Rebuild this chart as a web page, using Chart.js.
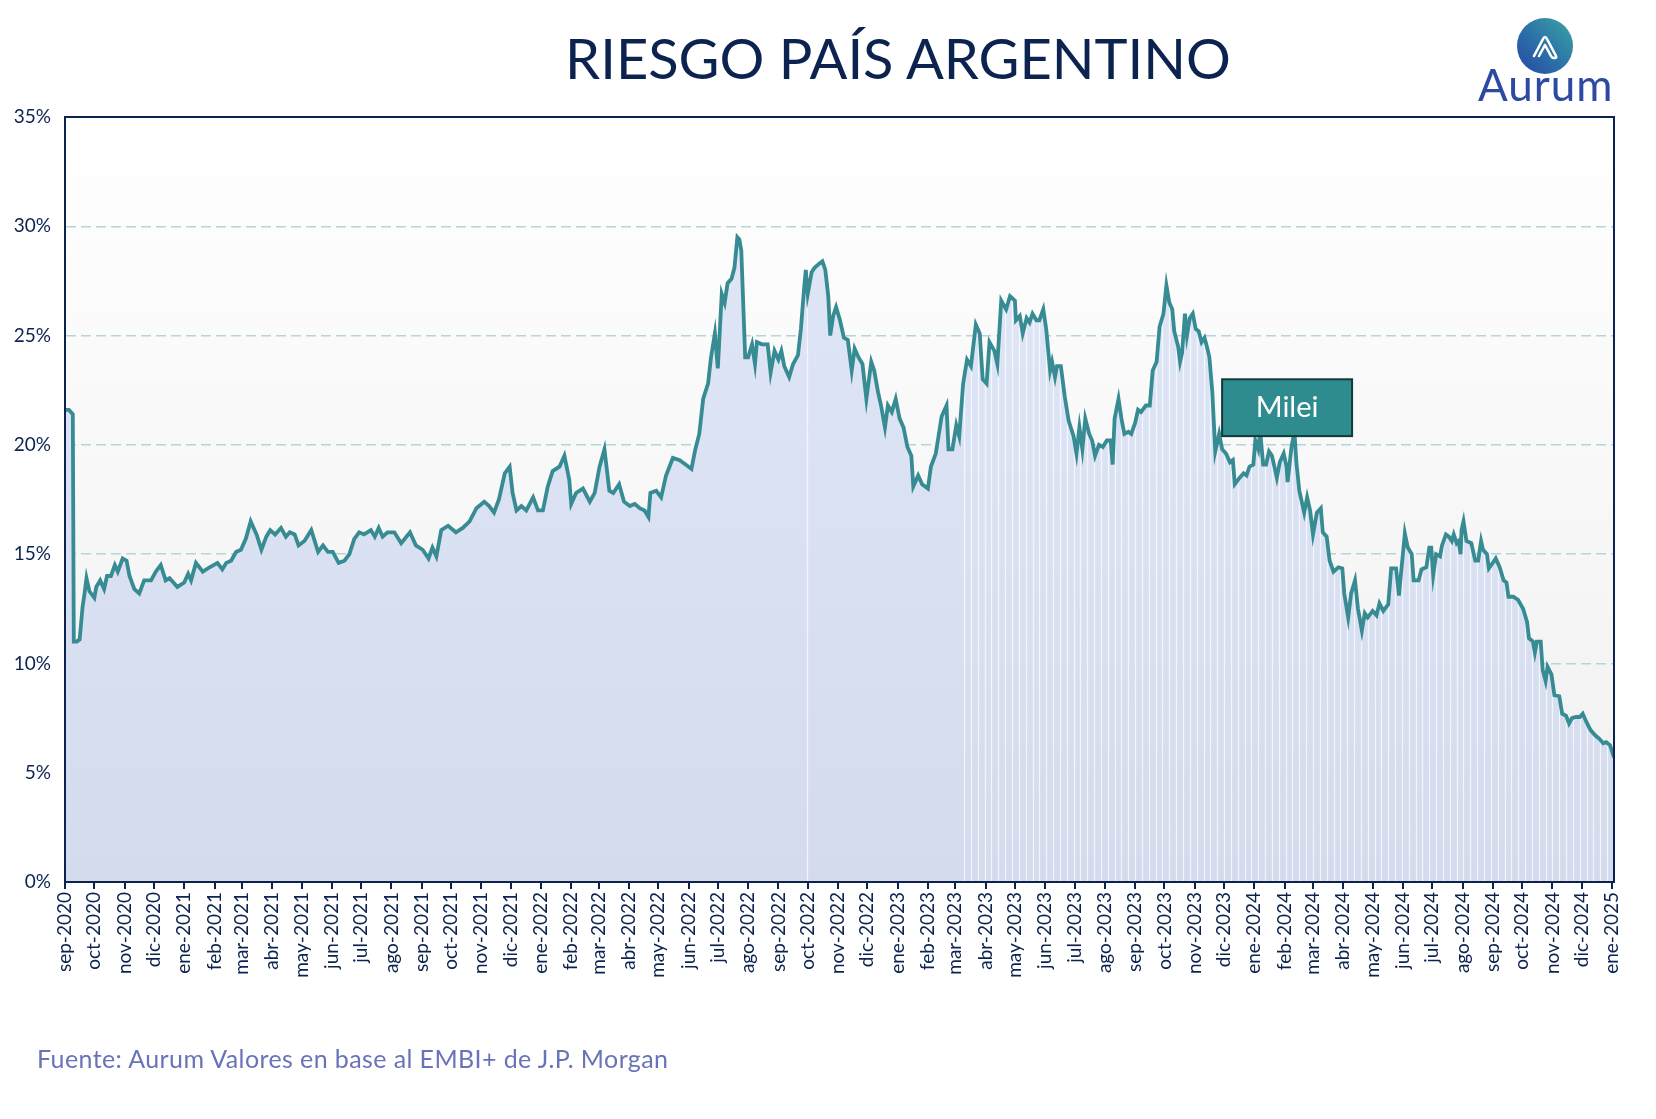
<!DOCTYPE html>
<html lang="es">
<head>
<meta charset="utf-8">
<title>Riesgo País Argentino</title>
<script src="https://cdn.jsdelivr.net/npm/chart.js@4.4.1/dist/chart.umd.min.js"></script>
<style>
  html, body { margin: 0; padding: 0; background: #fff; }
  .wrap { position: relative; width: 1656px; height: 1119px; font-family: Lato, "Noto Sans", sans-serif; overflow: hidden; }
  .wrap canvas { position: absolute; left: 0; top: 0; }
  .titulo { position: absolute; left: 898px; top: 24px; transform: translateX(-50%); font-size: 56px; font-weight: 400; line-height: 1.2; letter-spacing: 0; color: #0c2350; white-space: nowrap; }
  .fuente { position: absolute; left: 37px; top: 1043px; font-size: 25px; line-height: 1.2; letter-spacing: 0.4px; color: #6a73b8; white-space: nowrap; }
  .logo-circulo { position: absolute; left: 1517px; top: 18px; width: 56px; height: 56px; border-radius: 50%;
    background: linear-gradient(225deg, #3aa6a3 0%, #2c6fa8 55%, #2547a2 100%); }
  .logo-texto { position: absolute; left: 1478px; top: 58px; font-size: 44px; line-height: 1.2; color: #2b4aa0; letter-spacing: 1px; white-space: nowrap; }
</style>
</head>
<body>
<div class="wrap">
  <canvas id="grafico" width="1656" height="1119"></canvas>
  <div class="titulo">RIESGO PAÍS ARGENTINO</div>
  <div class="logo-circulo">
    <svg width="56" height="56" viewBox="0 0 56 56">
      <path d="M17 38 L26 21 Q28 17 30 21 L39 38 Q40 40 37 40 Q35 40 34 38 L28 27 L22 38"
            fill="none" stroke="#fff" stroke-width="2.6" stroke-linejoin="round" stroke-linecap="round"/>
    </svg>
  </div>
  <div class="logo-texto">Aurum</div>
  <div class="fuente">Fuente: Aurum Valores en base al EMBI+ de J.P. Morgan</div>
</div>
<script>
// etiquetas del eje x (una por mes)
const etiquetasMes = [
  'sep-2020', 'oct-2020', 'nov-2020', 'dic-2020',
  'ene-2021', 'feb-2021', 'mar-2021', 'abr-2021', 'may-2021', 'jun-2021',
  'jul-2021', 'ago-2021', 'sep-2021', 'oct-2021', 'nov-2021', 'dic-2021',
  'ene-2022', 'feb-2022', 'mar-2022', 'abr-2022', 'may-2022', 'jun-2022',
  'jul-2022', 'ago-2022', 'sep-2022', 'oct-2022', 'nov-2022', 'dic-2022',
  'ene-2023', 'feb-2023', 'mar-2023', 'abr-2023', 'may-2023', 'jun-2023',
  'jul-2023', 'ago-2023', 'sep-2023', 'oct-2023', 'nov-2023', 'dic-2023',
  'ene-2024', 'feb-2024', 'mar-2024', 'abr-2024', 'may-2024', 'jun-2024',
  'jul-2024', 'ago-2024', 'sep-2024', 'oct-2024', 'nov-2024', 'dic-2024',
  'ene-2025'
];

const ticksY = [0, 5, 10, 15, 20, 25, 30, 35];

// fechas de cada lectura
const fechas = [
  '2020-09-01', '2020-09-05', '2020-09-09', '2020-09-10', '2020-09-13', '2020-09-16', '2020-09-19', '2020-09-21', '2020-09-23', '2020-09-26',
  '2020-10-01', '2020-10-03', '2020-10-07', '2020-10-11', '2020-10-14', '2020-10-18', '2020-10-22', '2020-10-25', '2020-10-30',
  '2020-11-03', '2020-11-06', '2020-11-11', '2020-11-16', '2020-11-21', '2020-11-28',
  '2020-12-03', '2020-12-08', '2020-12-13', '2020-12-17', '2020-12-25',
  '2021-01-01', '2021-01-05', '2021-01-08', '2021-01-13', '2021-01-20', '2021-01-27',
  '2021-02-04', '2021-02-09', '2021-02-13', '2021-02-18', '2021-02-23', '2021-02-28',
  '2021-03-05', '2021-03-10', '2021-03-16', '2021-03-21', '2021-03-26', '2021-03-30',
  '2021-04-04', '2021-04-10', '2021-04-15', '2021-04-19', '2021-04-24', '2021-04-28',
  '2021-05-04', '2021-05-11', '2021-05-18', '2021-05-23', '2021-05-28',
  '2021-06-02', '2021-06-08', '2021-06-14', '2021-06-19', '2021-06-24', '2021-06-29',
  '2021-07-04', '2021-07-11', '2021-07-15', '2021-07-19', '2021-07-23', '2021-07-28',
  '2021-08-04', '2021-08-11', '2021-08-20', '2021-08-26',
  '2021-09-02', '2021-09-08', '2021-09-12', '2021-09-16', '2021-09-21', '2021-09-28',
  '2021-10-06', '2021-10-13', '2021-10-20', '2021-10-27',
  '2021-11-04', '2021-11-09', '2021-11-14', '2021-11-19', '2021-11-25', '2021-11-30',
  '2021-12-03', '2021-12-07', '2021-12-12', '2021-12-17', '2021-12-24', '2021-12-29',
  '2022-01-03', '2022-01-08', '2022-01-13', '2022-01-20', '2022-01-25', '2022-01-30',
  '2022-02-01', '2022-02-06', '2022-02-13', '2022-02-20', '2022-02-25',
  '2022-03-02', '2022-03-07', '2022-03-12', '2022-03-16', '2022-03-22', '2022-03-27',
  '2022-04-02', '2022-04-07', '2022-04-12', '2022-04-17', '2022-04-21', '2022-04-23', '2022-04-29',
  '2022-05-04', '2022-05-09', '2022-05-16', '2022-05-23', '2022-05-29',
  '2022-06-04', '2022-06-08', '2022-06-12', '2022-06-16', '2022-06-21', '2022-06-24', '2022-06-28',
  '2022-07-01', '2022-07-05', '2022-07-08', '2022-07-11', '2022-07-15', '2022-07-18', '2022-07-21', '2022-07-23', '2022-07-25', '2022-07-29',
  '2022-08-01', '2022-08-05', '2022-08-08', '2022-08-10', '2022-08-15', '2022-08-18', '2022-08-21', '2022-08-24', '2022-08-28',
  '2022-09-01', '2022-09-04', '2022-09-07', '2022-09-12', '2022-09-16', '2022-09-21', '2022-09-24', '2022-09-27', '2022-09-29',
  '2022-10-01', '2022-10-05', '2022-10-08', '2022-10-13', '2022-10-16', '2022-10-19', '2022-10-22', '2022-10-24', '2022-10-27', '2022-10-30',
  '2022-11-03', '2022-11-07', '2022-11-11', '2022-11-15', '2022-11-18', '2022-11-22', '2022-11-26', '2022-11-30',
  '2022-12-05', '2022-12-08', '2022-12-12', '2022-12-15', '2022-12-19', '2022-12-22', '2022-12-26', '2022-12-30',
  '2023-01-03', '2023-01-07', '2023-01-11', '2023-01-15', '2023-01-17', '2023-01-22', '2023-01-26',
  '2023-02-01', '2023-02-04', '2023-02-09', '2023-02-15', '2023-02-20', '2023-02-22', '2023-02-26',
  '2023-03-02', '2023-03-05', '2023-03-09', '2023-03-13', '2023-03-17', '2023-03-22', '2023-03-26', '2023-03-29',
  '2023-04-02', '2023-04-05', '2023-04-10', '2023-04-13', '2023-04-17', '2023-04-22', '2023-04-26',
  '2023-05-01', '2023-05-02', '2023-05-06', '2023-05-09', '2023-05-13', '2023-05-16', '2023-05-19', '2023-05-23', '2023-05-26', '2023-05-30',
  '2023-06-02', '2023-06-06', '2023-06-08', '2023-06-11', '2023-06-13', '2023-06-17', '2023-06-21', '2023-06-25', '2023-06-30',
  '2023-07-03', '2023-07-06', '2023-07-09', '2023-07-12', '2023-07-16', '2023-07-19', '2023-07-22', '2023-07-26', '2023-07-30',
  '2023-08-03', '2023-08-07', '2023-08-09', '2023-08-11', '2023-08-15', '2023-08-18', '2023-08-21', '2023-08-25', '2023-08-28',
  '2023-09-01', '2023-09-04', '2023-09-07', '2023-09-12', '2023-09-16', '2023-09-19', '2023-09-23', '2023-09-26', '2023-09-30',
  '2023-10-03', '2023-10-06', '2023-10-09', '2023-10-11', '2023-10-15', '2023-10-17', '2023-10-19', '2023-10-22', '2023-10-24', '2023-10-27', '2023-10-30',
  '2023-11-02', '2023-11-05', '2023-11-08', '2023-11-11', '2023-11-14', '2023-11-16', '2023-11-19', '2023-11-22', '2023-11-26', '2023-11-29',
  '2023-12-03', '2023-12-07', '2023-12-10', '2023-12-12', '2023-12-17', '2023-12-21', '2023-12-24', '2023-12-27', '2023-12-31',
  '2024-01-02', '2024-01-05', '2024-01-07', '2024-01-10', '2024-01-13', '2024-01-16', '2024-01-19', '2024-01-22', '2024-01-24', '2024-01-27', '2024-01-31',
  '2024-02-03', '2024-02-04', '2024-02-08', '2024-02-11', '2024-02-13', '2024-02-16', '2024-02-21', '2024-02-24', '2024-02-27',
  '2024-03-01', '2024-03-05', '2024-03-09', '2024-03-11', '2024-03-15', '2024-03-18', '2024-03-22', '2024-03-27', '2024-03-31',
  '2024-04-02', '2024-04-06', '2024-04-09', '2024-04-13', '2024-04-16', '2024-04-20', '2024-04-23', '2024-04-26',
  '2024-05-01', '2024-05-05', '2024-05-08', '2024-05-12', '2024-05-17', '2024-05-20', '2024-05-25', '2024-05-28', '2024-05-30',
  '2024-06-01', '2024-06-03', '2024-06-06', '2024-06-10', '2024-06-12', '2024-06-17', '2024-06-20', '2024-06-25', '2024-06-28', '2024-06-30',
  '2024-07-02', '2024-07-05', '2024-07-09', '2024-07-11', '2024-07-15', '2024-07-18', '2024-07-21', '2024-07-23', '2024-07-26', '2024-07-28', '2024-07-30', '2024-07-31',
  '2024-08-02', '2024-08-05', '2024-08-10', '2024-08-14', '2024-08-17', '2024-08-20', '2024-08-22', '2024-08-26', '2024-08-28',
  '2024-09-01', '2024-09-04', '2024-09-08', '2024-09-12', '2024-09-15', '2024-09-17', '2024-09-22', '2024-09-27',
  '2024-10-02', '2024-10-06', '2024-10-08', '2024-10-12', '2024-10-14', '2024-10-16', '2024-10-20', '2024-10-22', '2024-10-25', '2024-10-27', '2024-10-31',
  '2024-11-03', '2024-11-08', '2024-11-11', '2024-11-15', '2024-11-18', '2024-11-21', '2024-11-25', '2024-11-29',
  '2024-12-02', '2024-12-06', '2024-12-10', '2024-12-15', '2024-12-19', '2024-12-23', '2024-12-26', '2024-12-30',
  '2025-01-03'
];

// riesgo país en %, misma posición que fechas
const riesgo = [
  21.6, 21.6, 21.4, 11.0, 11.0, 11.1, 12.6, 13.2, 13.9, 13.3,
  13.0, 13.5, 13.8, 13.4, 14.0, 14.0, 14.5, 14.2, 14.8,
  14.7, 14.0, 13.4, 13.2, 13.8, 13.8,
  14.2, 14.5, 13.8, 13.9, 13.5,
  13.7, 14.1, 13.8, 14.6, 14.2, 14.4,
  14.6, 14.3, 14.6, 14.7, 15.1, 15.2,
  15.7, 16.5, 15.9, 15.2, 15.8, 16.1,
  15.9, 16.2, 15.8, 16.0, 15.9, 15.4,
  15.6, 16.1, 15.1, 15.4, 15.1,
  15.1, 14.6, 14.7, 15.0, 15.7, 16.0,
  15.9, 16.1, 15.8, 16.2, 15.8, 16.0,
  16.0, 15.5, 16.0, 15.4,
  15.2, 14.8, 15.3, 14.9, 16.1, 16.3,
  16.0, 16.2, 16.5, 17.1,
  17.4, 17.2, 16.9, 17.5, 18.7, 19.0,
  17.8, 17.0, 17.2, 17.0, 17.6, 17.0,
  17.0, 18.1, 18.8, 19.0, 19.5, 18.4,
  17.3, 17.8, 18.0, 17.4, 17.8,
  19.0, 19.8, 17.9, 17.8, 18.2, 17.4,
  17.2, 17.3, 17.1, 17.0, 16.7, 17.8, 17.9,
  17.6, 18.6, 19.4, 19.3, 19.1,
  18.9, 19.8, 20.5, 22.1, 22.8, 24.0, 25.1,
  23.5, 26.9, 26.5, 27.4, 27.6, 28.1, 29.5, 29.4, 28.9, 24.0,
  24.0, 24.6, 23.7, 24.7, 24.6, 24.6, 24.6, 23.3, 24.3,
  23.9, 24.3, 23.6, 23.1, 23.7, 24.1, 25.3, 27.0, 28.0,
  26.9, 27.9, 28.1, 28.3, 28.4, 28.0, 26.8, 25.0, 25.9, 26.3,
  25.7, 24.9, 24.8, 23.4, 24.4, 24.0, 23.7, 22.1,
  23.8, 23.4, 22.4, 21.8, 20.8, 21.8, 21.5, 22.1,
  21.2, 20.8, 19.9, 19.5, 18.1, 18.6, 18.2,
  18.0, 19.0, 19.6, 21.3, 21.8, 19.8, 19.8,
  20.9, 20.4, 22.8, 23.9, 23.6, 25.5, 25.1, 23.0,
  22.8, 24.7, 24.3, 23.7, 26.6, 26.2, 26.8,
  26.6, 25.7, 25.9, 25.1, 25.8, 25.6, 26.0, 25.7, 25.7, 26.2,
  25.3, 23.4, 23.8, 23.1, 23.6, 23.6, 22.2, 21.1, 20.4,
  19.6, 20.8, 19.8, 21.2, 20.5, 20.2, 19.5, 20.0, 19.9,
  20.2, 20.2, 19.1, 21.2, 22.1, 21.2, 20.5, 20.6, 20.5,
  21.0, 21.6, 21.5, 21.8, 21.8, 23.4, 23.8, 25.4, 26.0,
  27.3, 26.5, 26.2, 25.2, 24.5, 23.8, 24.2, 26.0, 25.0, 25.8, 26.0,
  25.3, 25.2, 24.7, 24.9, 24.4, 24.0, 22.4, 19.7, 20.5, 19.8,
  19.6, 19.2, 19.3, 18.2, 18.5, 18.7, 18.6, 19.0, 19.1,
  20.2, 19.8, 20.6, 19.1, 19.1, 19.7, 19.5, 18.9, 18.5, 19.2, 19.6,
  19.0, 18.3, 19.9, 20.6, 19.2, 17.9, 16.9, 17.6, 17.0,
  15.9, 16.9, 17.1, 16.0, 15.8, 14.7, 14.2, 14.4, 14.35,
  13.2, 12.1, 13.2, 13.8, 12.5, 11.5, 12.3, 12.1,
  12.4, 12.2, 12.75, 12.4, 12.7, 14.35, 14.35, 13.1, 14.1,
  15.0, 15.95, 15.3, 15.0, 13.8, 13.8, 14.3, 14.4, 15.3, 15.3,
  14.05, 15.0, 14.9, 15.4, 15.9, 15.8, 15.6, 15.9, 15.5, 15.6, 15.0, 16.1,
  16.5, 15.6, 15.5, 14.7, 14.7, 15.6, 15.2, 15.0, 14.35,
  14.6, 14.8, 14.4, 13.8, 13.7, 13.05, 13.05, 12.9,
  12.5, 11.9, 11.15, 11.0, 10.5, 11.0, 11.0, 9.7, 9.2, 9.85, 9.5,
  8.55, 8.5, 7.7, 7.6, 7.25, 7.5, 7.55, 7.55,
  7.7, 7.3, 6.95, 6.7, 6.55, 6.35, 6.4, 6.25,
  5.7
];

const NAVY = '#0c2350';
const MESES = ['ene', 'feb', 'mar', 'abr', 'may', 'jun', 'jul', 'ago', 'sep', 'oct', 'nov', 'dic'];
const INICIO = Date.UTC(2020, 8, 1);

// días desde el 1-sep-2020
const dia = (y, m, d) => (Date.UTC(y, m, d) - INICIO) / 864e5;
const diaDeFecha = (s) => {
  const [y, m, d] = s.split('-').map(Number);
  return dia(y, m - 1, d);
};

const tickDias = etiquetasMes.map((e) => {
  const [m, y] = e.split('-');
  return dia(Number(y), MESES.indexOf(m), 1);
});

const puntos = fechas.map((f, i) => ({ x: diaDeFecha(f), y: riesgo[i] }));

// fondo degradado del área de trazado
const fondo = {
  id: 'fondo',
  beforeDraw(chart) {
    const { ctx, chartArea: a } = chart;
    const g = ctx.createLinearGradient(0, a.top, 0, a.bottom);
    g.addColorStop(0, '#ffffff');
    g.addColorStop(1, '#f0f0f0');
    ctx.save();
    ctx.fillStyle = g;
    ctx.fillRect(a.left, a.top, a.width, a.height);
    ctx.restore();
  },
};

// líneas blancas finas dentro del área (semanales desde mar-2023)
const franjas = {
  id: 'franjas',
  beforeDatasetDraw(chart) {
    const { ctx, chartArea: a, scales: { x } } = chart;
    const pts = chart.getDatasetMeta(0).data;
    if (!pts.length) return;

    ctx.save();
    ctx.beginPath();
    ctx.moveTo(pts[0].x, a.bottom);
    pts.forEach((p) => ctx.lineTo(p.x, p.y));
    ctx.lineTo(pts[pts.length - 1].x, a.bottom);
    ctx.closePath();
    ctx.clip();

    const dias = [diaDeFecha('2022-09-30')];
    for (let d = diaDeFecha('2023-03-10'); d < x.max; d += 7) dias.push(d);

    ctx.strokeStyle = 'rgba(255,255,255,0.7)';
    ctx.lineWidth = 1.3;
    dias.forEach((d) => {
      const px = Math.round(x.getPixelForValue(d)) + 0.5;
      ctx.beginPath();
      ctx.moveTo(px, a.top);
      ctx.lineTo(px, a.bottom);
      ctx.stroke();
    });
    ctx.restore();
  },
};

// marco del área de trazado
const recuadro = {
  id: 'recuadro',
  afterDatasetsDraw(chart) {
    const { ctx, chartArea: a } = chart;
    ctx.save();
    ctx.strokeStyle = NAVY;
    ctx.lineWidth = 2;
    ctx.strokeRect(a.left, a.top, a.width, a.height);
    ctx.restore();
  },
};

// etiqueta "Milei"
const milei = {
  id: 'milei',
  afterDatasetsDraw(chart) {
    const { ctx, scales: { x, y } } = chart;
    const x1 = x.getPixelForValue(diaDeFecha('2023-11-29'));
    const x2 = x.getPixelForValue(diaDeFecha('2024-04-10'));
    const y1 = y.getPixelForValue(23.0);
    const y2 = y.getPixelForValue(20.4);

    ctx.save();
    ctx.fillStyle = '#2e8b8e';
    ctx.fillRect(x1, y1, x2 - x1, y2 - y1);
    ctx.strokeStyle = '#12393b';
    ctx.lineWidth = 2;
    ctx.strokeRect(x1, y1, x2 - x1, y2 - y1);
    ctx.fillStyle = '#ffffff';
    ctx.font = '29px Lato, "Noto Sans", sans-serif';
    ctx.textAlign = 'center';
    ctx.textBaseline = 'middle';
    ctx.fillText('Milei', (x1 + x2) / 2, (y1 + y2) / 2);
    ctx.restore();
  },
};

Chart.defaults.font.family = 'Lato, "Noto Sans", sans-serif';
Chart.defaults.color = NAVY;

const ctx = document.getElementById('grafico').getContext('2d');

new Chart(ctx, {
  type: 'line',
  data: {
    datasets: [
      {
        label: 'Riesgo país',
        data: puntos,
        borderColor: '#378b92',
        borderWidth: 3.8,
        pointRadius: 0,
        tension: 0,
        fill: 'origin',
        backgroundColor: (c) => {
          const a = c.chart.chartArea;
          if (!a) return '#d7dff0';
          const g = c.chart.ctx.createLinearGradient(0, a.top, 0, a.bottom);
          g.addColorStop(0, '#e1e8f8');
          g.addColorStop(1, '#d3dbed');
          return g;
        },
      },
    ],
  },
  options: {
    responsive: false,
    animation: false,
    layout: { padding: { top: 117, right: 42, left: 0, bottom: 0 } },
    plugins: {
      legend: { display: false },
      tooltip: { enabled: false },
    },
    scales: {
      x: {
        type: 'linear',
        min: 0,
        max: diaDeFecha(fechas[fechas.length - 1]),
        afterBuildTicks: (s) => {
          s.ticks = tickDias.map((v) => ({ value: v }));
        },
        afterFit: (s) => {
          s.height = 237;
        },
        ticks: {
          autoSkip: false,
          minRotation: 90,
          maxRotation: 90,
          padding: 3,
          color: NAVY,
          font: { size: 19 },
          callback: (v, i) => etiquetasMes[i],
        },
        grid: { drawOnChartArea: false, drawTicks: true, tickLength: 7, color: NAVY, lineWidth: 2 },
        border: { color: NAVY, width: 2 },
      },
      y: {
        min: 0,
        max: 35,
        afterBuildTicks: (s) => {
          s.ticks = ticksY.map((v) => ({ value: v }));
        },
        afterFit: (s) => {
          s.width = 65;
        },
        ticks: {
          padding: 14,
          color: NAVY,
          font: { size: 19 },
          callback: (v) => v + '%',
        },
        grid: { color: '#b4d6d8', lineWidth: 1.5, drawTicks: false },
        border: { color: NAVY, width: 2, dash: [10, 5] },
      },
    },
  },
  plugins: [fondo, franjas, recuadro, milei],
});
</script>
</body>
</html>
